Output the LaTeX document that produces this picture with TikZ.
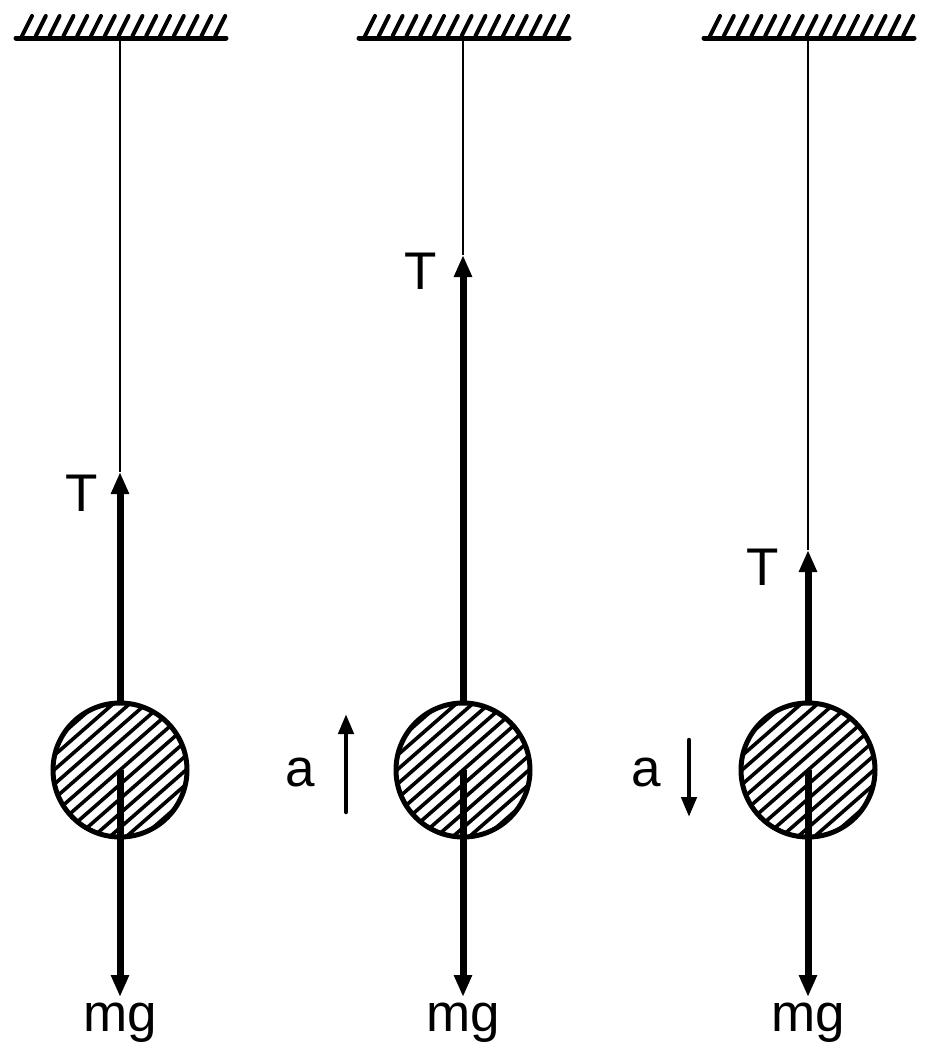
\documentclass[tikz,border=0pt]{standalone}
\usepackage{fontspec}
\setmainfont{Liberation Sans}
\usetikzlibrary{arrows.meta}
\begin{document}
\begin{tikzpicture}[x=1pt,y=-1pt,
  lbl/.style={font=\fontsize{53}{53}\selectfont, inner sep=0pt},
  stringline/.style={line width=2.4pt},
  force/.style={line width=7pt, -{Triangle[length=22pt,width=17pt]}},
  accel/.style={line width=4.5pt, line cap=round, -{Triangle[length=20pt,width=15pt]}},
  ceil/.style={line width=5pt, line cap=round},
  hatch/.style={line width=4pt, line cap=round},
  ball/.style={line width=5pt}]
\useasboundingbox (0,0) rectangle (933,1061);
\foreach \cx/\tt/\name in {120/472/A, 463/255/B, 808/550/C}{
  % ceiling
  \coordinate (top\name) at (\cx,38);
  \draw[ceil] (\cx-104,38) -- (\cx+106,38);
  \foreach \i in {0,...,14}{
    \draw[hatch] (\cx-98+\i*13.8,36) -- (\cx-88+\i*13.8,16);
  }
  % ball
  \coordinate (c\name) at (\cx,770);
  \begin{scope}
    \clip (c\name) circle (67);
    \foreach \k in {-9,...,9}{
      \draw[line width=3.6pt] (\cx-80+\k*16.5,840) -- (\cx+80+\k*16.5,700);
    }
  \end{scope}
  \draw[ball] (c\name) circle (67);
  \coordinate (bt\name) at (\cx,703);
  \coordinate (tip\name) at (\cx,\tt);
  \draw[stringline] (top\name) -- (tip\name);
  \draw[force] (bt\name) -- (tip\name);
  \coordinate (mgtip\name) at (\cx,997);
  \draw[force] (c\name) -- (mgtip\name);
  \node[lbl, anchor=north] (mg\name) at (\cx,1003) {mg};
}
\node[lbl] (TA) at (82,493) {T};
\node[lbl] (TB) at (421,271) {T};
\node[lbl] (TC) at (763,567) {T};
\node[lbl] (aB) at (300,772) {a};
\node[lbl] (aC) at (646,772) {a};
\coordinate (aB1) at (346,812);
\coordinate (aB2) at (346,714);
\coordinate (aC1) at (689,740);
\coordinate (aC2) at (689,817);
\draw[accel] (aB1) -- (aB2);
\draw[accel] (aC1) -- (aC2);
\end{tikzpicture}
\end{document}
